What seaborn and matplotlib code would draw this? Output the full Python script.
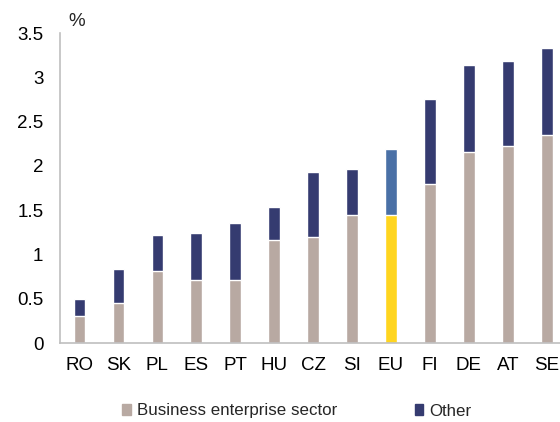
import matplotlib
matplotlib.use("Agg")
import matplotlib.pyplot as plt
from matplotlib.patches import Patch
import seaborn as sns
import pandas as pd

categories = ["RO", "SK", "PL", "ES", "PT", "HU", "CZ", "SI", "EU", "FI", "DE", "AT", "SE"]
business = [0.30, 0.45, 0.81, 0.71, 0.71, 1.16, 1.20, 1.45, 1.45, 1.80, 2.16, 2.22, 2.35]
other = [0.20, 0.39, 0.41, 0.535, 0.65, 0.38, 0.73, 0.51, 0.74, 0.96, 0.98, 0.96, 0.98]
yticks = [0, 0.5, 1, 1.5, 2, 2.5, 3, 3.5]
ytick_labels = ["0", "0.5", "1", "1.5", "2", "2.5", "3", "3.5"]

sns.set_theme(style="white")
plt.rcParams["font.family"] = ["Liberation Sans", "DejaVu Sans"]

df = pd.DataFrame({"cat": categories, "business": business, "other": other})
df["total"] = df["business"] + df["other"]

c_bus, c_oth = "#B8A9A2", "#353B70"
c_eu_bus, c_eu_oth = "#FFD520", "#4A70A6"
pal_tot = {c: (c_eu_oth if c == "EU" else c_oth) for c in categories}
pal_bus = {c: (c_eu_bus if c == "EU" else c_bus) for c in categories}

fig = plt.figure(figsize=(5.6, 4.22), dpi=100)
ax = fig.add_axes([60 / 560, 79 / 422, 1 - 60 / 560, 310 / 422])

sns.barplot(data=df, x="cat", y="total", hue="cat", palette=pal_tot, width=0.3,
            legend=False, ax=ax, saturation=1)
sns.barplot(data=df, x="cat", y="business", hue="cat", palette=pal_bus, width=0.3,
            legend=False, ax=ax, saturation=1)

ax.set_xlim(-0.5, 12.34)
ax.set_ylim(0, 3.5)
ax.set_yticks(yticks)
ax.set_yticklabels(ytick_labels)
ax.set_xlabel("")
ax.set_ylabel("")
for s in ["top", "right"]:
    ax.spines[s].set_visible(False)
for s in ["left", "bottom"]:
    ax.spines[s].set_color("#BFBFBF")
    ax.spines[s].set_linewidth(1.2)
ax.tick_params(axis="both", length=0, labelsize=13.5, colors="#000000")
ax.tick_params(axis="y", pad=12)
ax.tick_params(axis="x", pad=10)

fig.text(68 / 560, 1 - 22 / 422, "%", fontsize=13.5, va="center", ha="left")

handles = [Patch(color=c_bus, label="Business enterprise sector"),
           Patch(color=c_oth, label="Other")]
fig.legend(handles=handles, loc="center", bbox_to_anchor=(0.53, 1 - 411 / 422),
           ncol=2, frameon=False, fontsize=12.2, handlelength=0.5, handleheight=0.6,
           handletextpad=0.35, columnspacing=4.6)

fig.savefig("out.png", dpi=100)
